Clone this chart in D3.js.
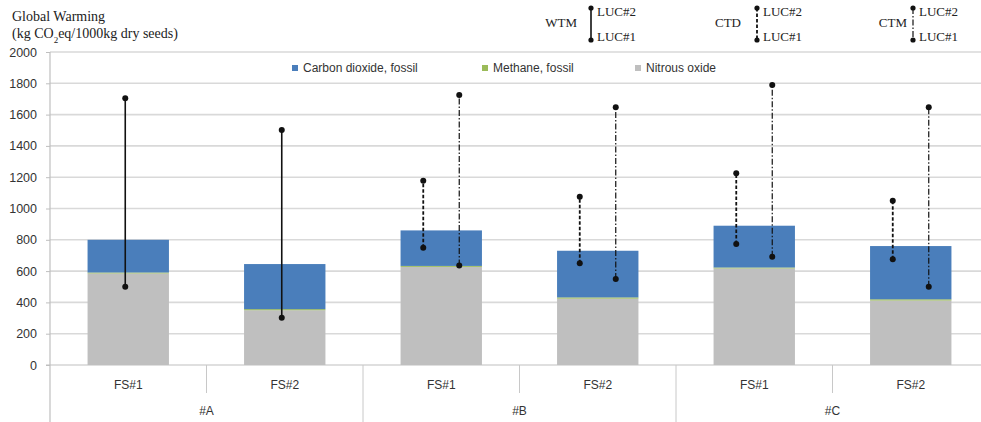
<!DOCTYPE html>
<html lang="en">
<head>
<meta charset="utf-8">
<title>Global Warming by seed system</title>
<script src="https://d3js.org/d3.v7.min.js"></script>
<style>
  body { margin: 0; background: white; }
  svg { display: block; }
  .tick text { font-family: "Liberation Sans", Arial, sans-serif; fill: #333; }
  .serif { font-family: "Liberation Serif", "Times New Roman", serif; fill: #222; }
</style>
</head>
<body>
<div id="chart"></div>
<script>
// categories and groups
const categories = ["FS#1", "FS#2", "FS#1", "FS#2", "FS#1", "FS#2"];
const groups = ["#A", "#B", "#C"];

// stacked values (kg CO2eq / 1000 kg dry seeds)
const nitrous = [585, 350, 627, 424, 617, 412];
const methane = [6, 7, 6, 8, 6, 8];
const co2 = [209, 288, 227, 298, 267, 340];

// range lines: LUC#1 (low) and LUC#2 (high)
const wtmLuc1 = [500, 302, null, null, null, null];
const wtmLuc2 = [1705, 1502, null, null, null, null];
const ctdLuc1 = [null, null, 750, 650, 773, 675];
const ctdLuc2 = [null, null, 1178, 1075, 1225, 1050];
const ctmLuc1 = [null, null, 635, 550, 692, 500];
const ctmLuc2 = [null, null, 1725, 1647, 1789, 1647];

const yTicks = d3.range(0, 2001, 200);

var W = 981, H = 422;
var margin = {top: 52, left: 50, bottom: 57};
var plotW = 939; // runs past the right edge, like the cropped original
var svg = d3.select("#chart").append("svg")
  .attr("width", W).attr("height", H);

var x = d3.scaleBand()
  .domain(d3.range(categories.length))
  .range([margin.left, margin.left + plotW])
  .padding(0);
var bw = x.bandwidth();
var barW = bw * 0.52;

var y = d3.scaleLinear()
  .domain([0, 2000])
  .range([H - margin.bottom, margin.top]);

// gridlines
svg.append("g")
  .selectAll("line")
  .data(yTicks.filter(d => d > 0))
  .enter().append("line")
    .attr("x1", margin.left).attr("x2", W)
    .attr("y1", d => y(d)).attr("y2", d => y(d))
    .attr("stroke", "#d9d9d9")
    .attr("stroke-width", 1.6);

// y axis
var yAxis = svg.append("g")
  .attr("transform", "translate(" + margin.left + ",0)")
  .call(d3.axisLeft(y).tickValues(yTicks).tickFormat(d3.format("d")).tickSize(4).tickPadding(9));
yAxis.select(".domain").remove();
yAxis.selectAll(".tick line").attr("stroke", "#bfbfbf");
yAxis.selectAll(".tick text").style("font-size", "12.5px");

// stacked bars
var stackRows = categories.map((c, i) => ({i: i, nitrous: nitrous[i], methane: methane[i], co2: co2[i]}));
var keys = ["nitrous", "methane", "co2"];
var colors = {nitrous: "#bfbfbf", methane: "#9bbb59", co2: "#4a7ebb"};
var series = d3.stack().keys(keys)(stackRows);

svg.append("g")
  .selectAll("g")
  .data(series)
  .enter().append("g")
    .attr("fill", d => colors[d.key])
  .selectAll("rect")
  .data(d => d)
  .enter().append("rect")
    .attr("x", d => x(d.data.i) + (bw - barW) / 2)
    .attr("width", barW)
    .attr("y", d => y(d[1]))
    .attr("height", d => y(d[0]) - y(d[1]));

// x axis baseline
svg.append("line")
  .attr("x1", margin.left - 4).attr("x2", W)
  .attr("y1", y(0)).attr("y2", y(0))
  .attr("stroke", "#bfbfbf").attr("stroke-width", 1.2);

// left axis line, runs down to the bottom
svg.append("line")
  .attr("x1", margin.left).attr("x2", margin.left)
  .attr("y1", y(2000)).attr("y2", H)
  .attr("stroke", "#bfbfbf").attr("stroke-width", 1.2);

// category separators
d3.range(1, categories.length).forEach(function(i) {
  var long = i % 2 == 0;
  svg.append("line")
    .attr("x1", x(i)).attr("x2", x(i))
    .attr("y1", y(0)).attr("y2", long ? H : y(0) + 28)
    .attr("stroke", "#c8c8c8").attr("stroke-width", 1);
});

// category labels
var xAxis = svg.append("g")
  .attr("transform", "translate(0," + y(0) + ")")
  .call(d3.axisBottom(x).tickSize(0).tickPadding(15).tickFormat(i => categories[i]));
xAxis.select(".domain").remove();
xAxis.selectAll(".tick text").style("font-size", "12px");

// group labels
svg.append("g")
  .selectAll("text")
  .data(groups)
  .enter().append("text")
    .attr("x", (d, g) => x(g * 2) + bw)
    .attr("y", 415)
    .attr("text-anchor", "middle")
    .style("font-family", "'Liberation Sans', Arial, sans-serif")
    .style("font-size", "12px")
    .style("fill", "#333")
    .text(d => d);

// range lines
var methods = [
  {name: "WTM", lo: wtmLuc1, hi: wtmLuc2, dash: null, width: 1.6},
  {name: "CTD", lo: ctdLuc1, hi: ctdLuc2, dash: "3.5,2", width: 1.8},
  {name: "CTM", lo: ctmLuc1, hi: ctmLuc2, dash: "6,2,1.5,2", width: 1.2}
];
var offset = d3.scalePoint().domain(["CTD", "CTM"]).range([-bw * 0.115, bw * 0.115]);

var rangeG = svg.append("g");
categories.forEach(function(c, i) {
  var here = methods.filter(m => m.lo[i] != null);
  here.forEach(function(m) {
    var cx = x(i) + bw / 2 + (here.length > 1 ? offset(m.name) : -3);
    rangeG.append("line")
      .attr("x1", cx).attr("x2", cx)
      .attr("y1", y(m.lo[i])).attr("y2", y(m.hi[i]))
      .attr("stroke", "#111")
      .attr("stroke-width", m.width)
      .attr("stroke-dasharray", m.dash);
    [m.lo[i], m.hi[i]].forEach(function(v) {
      rangeG.append("circle")
        .attr("cx", cx).attr("cy", y(v)).attr("r", 3)
        .attr("fill", "#111");
    });
  });
});

// series legend
var legendItems = [
  {key: "co2", label: "Carbon dioxide, fossil", x: 292},
  {key: "methane", label: "Methane, fossil", x: 482},
  {key: "nitrous", label: "Nitrous oxide", x: 635}
];
var lg = svg.append("g");
legendItems.forEach(function(d) {
  lg.append("rect")
    .attr("x", d.x).attr("y", 65)
    .attr("width", 6).attr("height", 6)
    .attr("fill", colors[d.key]);
  lg.append("text")
    .attr("x", d.x + 11).attr("y", 72)
    .style("font-family", "'Liberation Sans', Arial, sans-serif")
    .style("font-size", "12px")
    .style("fill", "#333")
    .text(d.label);
});

// method legend
var methodLegend = [
  {name: "WTM", tx: 577, lx: 591},
  {name: "CTD", tx: 741, lx: 757},
  {name: "CTM", tx: 907, lx: 913}
];
methodLegend.forEach(function(d) {
  var m = methods.find(k => k.name == d.name);
  svg.append("text").attr("class", "serif")
    .attr("x", d.tx).attr("y", 27)
    .attr("text-anchor", "end")
    .style("font-size", "13px")
    .text(d.name);
  svg.append("line")
    .attr("x1", d.lx).attr("x2", d.lx)
    .attr("y1", 8).attr("y2", 40)
    .attr("stroke", "#111")
    .attr("stroke-width", m.width)
    .attr("stroke-dasharray", m.dash);
  [8, 40].forEach(function(cy) {
    svg.append("circle").attr("cx", d.lx).attr("cy", cy).attr("r", 2.6).attr("fill", "#111");
  });
  svg.append("text").attr("class", "serif")
    .attr("x", d.lx + 6).attr("y", 16)
    .style("font-size", "13px")
    .text("LUC#2");
  svg.append("text").attr("class", "serif")
    .attr("x", d.lx + 6).attr("y", 41)
    .style("font-size", "13px")
    .text("LUC#1");
});

// y title
var title = svg.append("text").attr("class", "serif")
  .style("font-size", "14px");
title.append("tspan").attr("x", 12).attr("y", 21).text("Global Warming");
var t2 = svg.append("text").attr("class", "serif")
  .attr("x", 12).attr("y", 38)
  .style("font-size", "14px");
t2.append("tspan").text("(kg CO");
t2.append("tspan").attr("baseline-shift", "sub").style("font-size", "9px").text("2");
t2.append("tspan").text("eq/1000kg dry seeds)");
</script>
</body>
</html>
